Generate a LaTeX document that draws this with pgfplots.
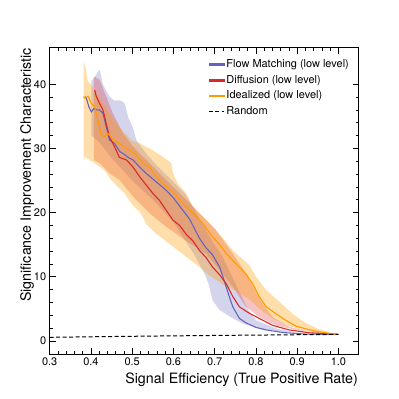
\documentclass[border=0pt]{standalone}
\usepackage{fontspec}
\setmainfont{TeX Gyre Heros}
\usepackage{pgfplots}
\pgfplotsset{compat=1.18}

\definecolor{fmblue}{RGB}{100,100,190}
\definecolor{dfred}{RGB}{220,40,40}
\definecolor{idorange}{RGB}{255,155,0}

\begin{document}
\begin{tikzpicture}
\path[use as bounding box] (-49.7bp,-44.7bp) rectangle (349.3bp,354.3bp);
\begin{axis}[
  at={(0,0)}, anchor=south west,
  scale only axis,
  width=309.3bp, height=306.6bp,
  xmin=0.3, xmax=1.05,
  ymin=-2.1, ymax=45.7,
  xtick={0.3,0.4,0.5,0.6,0.7,0.8,0.9,1.0},
  ytick={0,10,20,30,40},
  minor x tick num=4,
  minor y tick num=4,
  tick pos=both,
  tick align=inside,
  major tick length=6bp,
  minor tick length=3bp,
  axis line style={line width=1bp},
  every tick/.style={black, line width=0.6bp},
  /pgf/number format/assume math mode=true,
  xticklabel style={/pgf/number format/.cd, fixed, fixed zerofill, precision=1},
  ticklabel style={font=\fontsize{11}{13}\selectfont},
  xlabel={Signal Efficiency (True Positive Rate)},
  ylabel={Significance Improvement Characteristic},
  label style={font=\fontsize{14.3}{16}\selectfont, inner sep=0pt},
  xlabel style={at={(axis description cs:1,0)}, anchor=base east, yshift=-28.7bp, xshift=-1bp},
  ylabel style={at={(axis description cs:-0.05,1)}, anchor=south east},
  legend style={at={(0.503,0.975)}, anchor=north west, draw=none, fill=none,
    font=\fontsize{11}{13}\selectfont, row sep=2.2bp},
  legend cell align=left,
]
% legend
\addlegendimage{legend image code/.code={\fill[fmblue] (0bp,-0.8bp) rectangle (15bp,0.8bp);}}
\addlegendentry{Flow Matching (low level)}
\addlegendimage{legend image code/.code={\fill[dfred] (0bp,-0.8bp) rectangle (15bp,0.8bp);}}
\addlegendentry{Diffusion (low level)}
\addlegendimage{legend image code/.code={\fill[idorange] (0bp,-0.8bp) rectangle (15bp,0.8bp);}}
\addlegendentry{Idealized (low level)}
\addlegendimage{legend image code/.code={\draw[black, line width=1bp, dash pattern=on 4bp off 2.5bp] (0bp,0bp) -- (15bp,0bp);}}
\addlegendentry{Random}
% bands
\addplot[forget plot, draw=none, fill=fmblue, fill opacity=0.28] coordinates {
(0.401,40.5) (0.413,41.5) (0.421,42.3) (0.429,40.0) (0.437,39.0) (0.445,38.1)
(0.455,37.5) (0.469,37.5) (0.476,37.3) (0.482,37.0) (0.490,34.9) (0.502,33.2)
(0.510,31.3) (0.530,29.5) (0.560,27.3) (0.600,24.8) (0.630,22.8) (0.660,19.5)
(0.690,16.0) (0.720,13.0) (0.750,9.0) (0.780,5.0) (0.800,3.2) (0.850,1.9)
(0.900,1.3) (1.000,1.0)
(0.865,1.4) (0.808,1.9) (0.768,2.7) (0.744,3.5) (0.712,4.8) (0.695,6.3)
(0.687,8.5) (0.679,10.0) (0.650,13.5) (0.600,18.5) (0.550,22.0) (0.500,25.0)
(0.450,28.5) (0.420,31.0) (0.401,32.0)
} -- cycle;
\addplot[forget plot, draw=none, fill=dfred, fill opacity=0.28] coordinates {
(0.407,41.2) (0.421,40.7) (0.437,38.1) (0.453,35.5) (0.478,32.3) (0.502,30.3)
(0.542,27.7) (0.582,25.1) (0.623,22.5) (0.663,19.9) (0.703,17.3) (0.744,13.6)
(0.776,10.5) (0.800,7.6) (0.816,5.8) (0.841,3.7) (0.881,2.2) (0.940,1.25) (1.000,1.0)
(0.905,1.6) (0.849,2.4) (0.808,3.7) (0.776,5.3) (0.744,8.4) (0.712,11.0)
(0.679,13.6) (0.631,15.6) (0.582,17.8) (0.542,19.9) (0.502,22.5) (0.469,25.1)
(0.445,26.1) (0.421,27.7) (0.407,28.2)
} -- cycle;
\addplot[forget plot, draw=none, fill=idorange, fill opacity=0.33] coordinates {
(0.382,43.5) (0.387,42.5) (0.392,40.5) (0.400,40.0) (0.410,39.0) (0.420,38.0)
(0.440,36.0) (0.460,34.0) (0.480,32.5) (0.500,31.2) (0.518,30.8) (0.550,29.7)
(0.574,28.7) (0.595,27.7) (0.599,26.1) (0.611,24.5) (0.631,23.0) (0.647,20.9)
(0.670,19.5) (0.695,17.8) (0.720,16.0) (0.744,14.1) (0.784,11.8) (0.800,10.0)
(0.825,7.9) (0.857,6.1) (0.889,4.2) (0.920,2.8) (0.950,1.9) (0.980,1.3) (1.000,1.0)
(0.960,1.2) (0.920,1.6) (0.880,2.3) (0.841,3.5) (0.808,5.0) (0.784,6.5)
(0.750,7.8) (0.720,8.8) (0.687,10.2) (0.663,11.5) (0.631,13.1) (0.599,14.7)
(0.558,16.7) (0.534,18.2) (0.522,19.8) (0.498,21.4) (0.482,23.0) (0.465,24.0)
(0.449,25.1) (0.433,26.6) (0.409,27.7) (0.385,28.7) (0.382,28.0)
} -- cycle;
% central lines
\addplot[forget plot, fmblue, line width=1.1bp] coordinates {
(0.387,38.1) (0.389,37.8) (0.395,36.5) (0.401,35.7) (0.407,36.2) (0.413,36.0)
(0.421,36.0) (0.429,35.5) (0.437,33.4) (0.445,31.3) (0.457,30.8) (0.470,29.5)
(0.478,29.2) (0.490,28.6) (0.502,28.2) (0.518,27.1) (0.534,26.1) (0.558,24.8)
(0.582,23.5) (0.600,22.3) (0.615,21.0) (0.639,19.0) (0.651,17.5) (0.663,16.0)
(0.679,14.5) (0.695,13.4) (0.712,11.5) (0.720,10.0) (0.728,8.4) (0.736,6.8)
(0.744,5.3) (0.760,3.5) (0.776,2.8) (0.800,2.1) (0.825,1.7) (0.865,1.3)
(0.920,1.05) (1.000,1.0)
};
\addplot[forget plot, dfred, line width=1.1bp] coordinates {
(0.409,39.1) (0.413,38.1) (0.421,37.0) (0.429,36.0) (0.437,33.9) (0.445,31.8)
(0.457,30.3) (0.469,28.6) (0.486,28.2) (0.502,27.1) (0.518,25.6) (0.534,24.3)
(0.550,23.0) (0.566,21.9) (0.582,20.4) (0.599,18.8) (0.615,18.0) (0.631,16.6)
(0.647,15.6) (0.663,14.1) (0.679,13.0) (0.695,11.5) (0.712,10.3) (0.728,8.9)
(0.744,6.9) (0.760,5.3) (0.784,4.3) (0.808,3.5) (0.841,2.4) (0.881,1.7)
(0.930,1.25) (1.000,1.0)
};
\addplot[forget plot, idorange, line width=1.1bp] coordinates {
(0.382,38.1) (0.385,37.8) (0.393,38.1) (0.401,37.0) (0.409,36.5) (0.417,34.4)
(0.425,32.1) (0.433,31.8) (0.439,32.4) (0.445,32.1) (0.453,31.3) (0.469,30.8)
(0.478,30.3) (0.494,29.7) (0.510,29.0) (0.526,27.7) (0.542,27.1) (0.558,25.6)
(0.574,24.5) (0.599,23.2) (0.623,21.4) (0.647,19.9) (0.671,18.3) (0.695,16.2)
(0.712,15.0) (0.728,13.6) (0.752,12.0) (0.776,10.4) (0.792,8.9) (0.808,6.9)
(0.825,5.3) (0.849,4.2) (0.870,3.3) (0.897,2.3) (0.925,1.8) (0.954,1.4)
(0.980,1.15) (1.000,1.0)
};
\addplot[forget plot, black, line width=1bp, dash pattern=on 4bp off 2.5bp] coordinates {
(0.3,0.548) (0.4,0.632) (0.5,0.707) (0.6,0.775) (0.7,0.837) (0.8,0.894)
(0.9,0.949) (1.0,1.0)
};
\end{axis}
\end{tikzpicture}
\end{document}
